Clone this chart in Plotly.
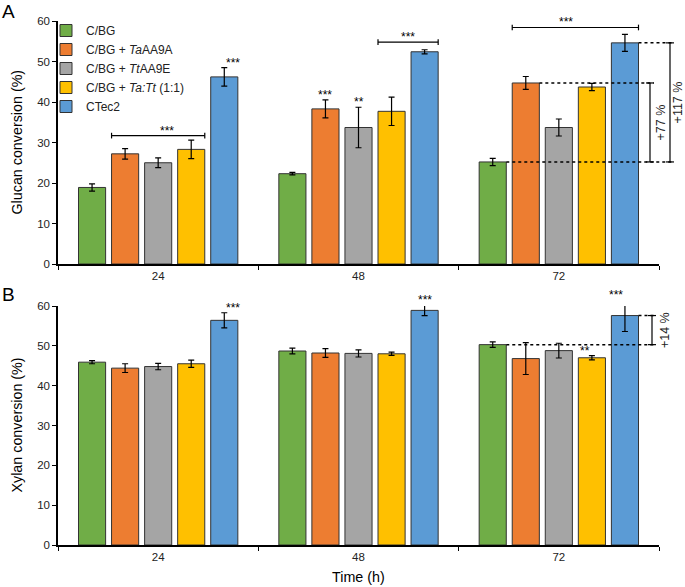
import plotly.graph_objects as go

# ---------------- data ----------------
times = ["24", "48", "72"]
series_names = ["C/BG", "C/BG + <i>Ta</i>AA9A", "C/BG + <i>Tt</i>AA9E",
                "C/BG + <i>Ta:Tt</i> (1:1)", "CTec2"]
colors = ["#70AD47", "#ED7D31", "#A5A5A5", "#FFC000", "#5B9BD5"]

# Panel A: glucan conversion (%)
glucan_cbg = [18.9, 22.3, 25.2]
glucan_taaa9a = [27.2, 38.3, 44.7]
glucan_ttaa9e = [25.0, 33.7, 33.7]
glucan_mix = [28.3, 37.7, 43.7]
glucan_ctec2 = [46.2, 52.4, 54.6]
glucan_cbg_err = [0.9, 0.3, 0.9]
glucan_taaa9a_err = [1.3, 2.2, 1.6]
glucan_ttaa9e_err = [1.2, 5.0, 2.1]
glucan_mix_err = [2.3, 3.5, 0.9]
glucan_ctec2_err = [2.3, 0.5, 2.1]

# Panel B: xylan conversion (%)
xylan_cbg = [45.9, 48.7, 50.3]
xylan_taaa9a = [44.4, 48.2, 46.8]
xylan_ttaa9e = [44.8, 48.1, 48.8]
xylan_mix = [45.5, 48.0, 47.0]
xylan_ctec2 = [56.4, 58.9, 57.6]
xylan_cbg_err = [0.4, 0.7, 0.7]
xylan_taaa9a_err = [1.1, 1.1, 4.0]
xylan_ttaa9e_err = [0.8, 0.9, 1.85]
xylan_mix_err = [0.9, 0.4, 0.55]
xylan_ctec2_err = [1.9, 1.3, 4.0]

y_ticks = [0, 10, 20, 30, 40, 50, 60]
Y_MAX = 60

# significance marks: (time index, series index, label)
sig_A = [(0, 4, "***"), (1, 1, "***"), (1, 2, "**")]
sig_B = [(0, 4, "***"), (1, 4, "***"), (2, 3, "**"), (2, 4, "***")]
# brackets in A: (time index, first series, last series, level, label)
brackets_A = [(0, 1, 3, 31.7, "***"), (1, 3, 4, 54.8, "***"), (2, 1, 4, 58.4, "***")]
# fold-change comparisons at 72 h: (target series, label)
fold_A = [(1, "+77 %"), (4, "+117 %")]
fold_B = [(4, "+14 %")]

glucan = [glucan_cbg, glucan_taaa9a, glucan_ttaa9e, glucan_mix, glucan_ctec2]
glucan_err = [glucan_cbg_err, glucan_taaa9a_err, glucan_ttaa9e_err, glucan_mix_err, glucan_ctec2_err]
xylan = [xylan_cbg, xylan_taaa9a, xylan_ttaa9e, xylan_mix, xylan_ctec2]
xylan_err = [xylan_cbg_err, xylan_taaa9a_err, xylan_ttaa9e_err, xylan_mix_err, xylan_ctec2_err]

# ---------------- geometry ----------------
W, H = 685, 587
ML, MR, MT, MB = 58, 26, 21, 42
PW = W - ML - MR
PH = H - MT - MB
BARGAP, BARGROUPGAP = 0.175, 0.18
SLOT = (1 - BARGAP) / 5
HALF = SLOT * (1 - BARGROUPGAP) / 2
FONT = "Liberation Sans, Arial, sans-serif"
DOM_A = [(H - MB - 264) / PH, 1.0]
DOM_B = [0.0, (H - MB - 306) / PH]
TITLE_SIZE = 14.3


def cat_x(k, i):
    return k + (i - 2) * SLOT


def to_paper(c):
    return (c + 0.5) / 3.0


def px_paper(px):
    return (px - ML) / PW


def py_paper(py):
    return (H - MB - py) / PH


fig = go.Figure()
for i in range(5):
    fig.add_trace(go.Bar(
        x=times, y=glucan[i], name=series_names[i], xaxis="x", yaxis="y",
        marker=dict(color=colors[i], line=dict(color="#333333", width=1)),
        error_y=dict(type="data", array=glucan_err[i], color="black", thickness=1.2, width=3),
        cliponaxis=False, showlegend=True))
for i in range(5):
    fig.add_trace(go.Bar(
        x=times, y=xylan[i], name=series_names[i], xaxis="x2", yaxis="y2",
        marker=dict(color=colors[i], line=dict(color="#333333", width=1)),
        error_y=dict(type="data", array=xylan_err[i], color="black", thickness=1.2, width=3),
        cliponaxis=False, showlegend=False))

shapes = []
annotations = []
line_k = dict(color="black", width=1.2)
dash_k = dict(color="black", width=1.5, dash="3px,3px")
star_font = dict(family=FONT, size=12, color="black")

# stars above individual bars
for vals, errs, sig, yr in [(glucan, glucan_err, sig_A, "y domain"), (xylan, xylan_err, sig_B, "y2 domain")]:
    for k, i, lab in sig:
        annotations.append(dict(x=to_paper(cat_x(k, i)), xref="paper",
                                y=(vals[i][k] + errs[i][k]) / Y_MAX, yref=yr,
                                text=lab, showarrow=False, yanchor="middle", yshift=5, font=star_font))

# horizontal brackets (panel A)
cap = 0.7
for k, i1, i2, lev, lab in brackets_A:
    x0 = to_paper(cat_x(k, i1) - HALF)
    x1 = to_paper(cat_x(k, i2) + HALF)
    shapes.append(dict(type="line", xref="paper", yref="y", x0=x0, x1=x1, y0=lev, y1=lev, line=line_k))
    for xx in (x0, x1):
        shapes.append(dict(type="line", xref="paper", yref="y", x0=xx, x1=xx, y0=lev - cap, y1=lev + cap, line=line_k))
    annotations.append(dict(x=(x0 + x1) / 2, xref="paper", y=lev / Y_MAX, yref="y domain", text=lab,
                            showarrow=False, yanchor="middle", yshift=5, font=star_font))


# fold-change comparisons at 72 h
def fold(vals, yr, folds, bracket_px, dash_end_px, text_px):
    base = vals[0][2]
    xb = to_paper(cat_x(2, 0) + HALF)
    shapes.append(dict(type="line", xref="paper", yref=yr, x0=xb, x1=px_paper(max(dash_end_px)),
                       y0=base, y1=base, line=dash_k))
    for (i, lab), bpx, dpx, tpx in zip(folds, bracket_px, dash_end_px, text_px):
        top = vals[i][2]
        xs = to_paper(cat_x(2, i) + HALF)
        shapes.append(dict(type="line", xref="paper", yref=yr, x0=xs, x1=px_paper(dpx), y0=top, y1=top, line=dash_k))
        xbk = px_paper(bpx)
        shapes.append(dict(type="line", xref="paper", yref=yr, x0=xbk, x1=xbk, y0=base, y1=top, line=line_k))
        for yy in (base, top):
            shapes.append(dict(type="line", xref="paper", yref=yr, x0=px_paper(bpx - 4), x1=px_paper(bpx + 4),
                               y0=yy, y1=yy, line=line_k))
        annotations.append(dict(x=px_paper(tpx), xref="paper", y=(base + top) / 2 / Y_MAX, yref=yr + " domain",
                                text=lab, showarrow=False, textangle=-90, xanchor="center", yanchor="middle",
                                font=dict(family=FONT, size=12.5, color="#222")))


fold(glucan, "y", fold_A, [650, 670], [654, 674], [661, 678])
fold(xylan, "y2", fold_B, [652], [656], [665])

# panel letters & axis titles
annotations += [
    dict(x=px_paper(8), y=py_paper(11), xref="paper", yref="paper", text="A", showarrow=False,
         font=dict(family=FONT, size=19, color="black"), xanchor="center", yanchor="middle"),
    dict(x=px_paper(8), y=py_paper(295), xref="paper", yref="paper", text="B", showarrow=False,
         font=dict(family=FONT, size=19, color="black"), xanchor="center", yanchor="middle"),
    dict(x=px_paper(16), y=0.5, xref="paper", yref="y domain", text="Glucan conversion (%)", textangle=-90,
         showarrow=False, font=dict(family=FONT, size=TITLE_SIZE, color="black"), xanchor="center", yanchor="middle"),
    dict(x=px_paper(16), y=0.5, xref="paper", yref="y2 domain", text="Xylan conversion (%)", textangle=-90,
         showarrow=False, font=dict(family=FONT, size=TITLE_SIZE, color="black"), xanchor="center", yanchor="middle"),
    dict(x=0.5, y=py_paper(577), xref="paper", yref="paper", text="Time (h)", showarrow=False,
         font=dict(family=FONT, size=TITLE_SIZE, color="black"), xanchor="center", yanchor="middle"),
]

xax = dict(type="category", categoryorder="array", categoryarray=times, range=[-0.5, 2.5],
           showline=True, linecolor="black", linewidth=1.5, ticks="outside", ticklen=4, tickwidth=1.2,
           tickcolor="black", tickson="boundaries", showgrid=False, zeroline=False,
           tickfont=dict(family=FONT, size=11.5, color="#222"))
yax = dict(range=[0, Y_MAX], tickvals=y_ticks, showline=True, linecolor="black", linewidth=1.5,
           ticks="outside", ticklen=4, tickwidth=1.2, tickcolor="black", showgrid=False, zeroline=False,
           tickfont=dict(family=FONT, size=11.5, color="#222"))

fig.update_layout(
    width=W, height=H, margin=dict(l=ML, r=MR, t=MT, b=MB, autoexpand=False),
    paper_bgcolor="white", plot_bgcolor="white",
    barmode="group", bargap=BARGAP, bargroupgap=BARGROUPGAP,
    xaxis=dict(xax, anchor="y", domain=[0, 1]),
    yaxis=dict(yax, anchor="x", domain=DOM_A),
    xaxis2=dict(xax, anchor="y2", domain=[0, 1]),
    yaxis2=dict(yax, anchor="x2", domain=DOM_B),
    legend=dict(x=px_paper(46), y=py_paper(16), xanchor="left", yanchor="top",
                bgcolor="rgba(0,0,0,0)", font=dict(family=FONT, size=12, color="#222"),
                itemclick=False, tracegroupgap=0),
    shapes=shapes, annotations=annotations, showlegend=True,
)

# the page's default body margin would shift the figure by 8 px; remove it
fig.write_html("out.html", config={"displayModeBar": False},
               post_script="document.body.style.margin='0px';")
